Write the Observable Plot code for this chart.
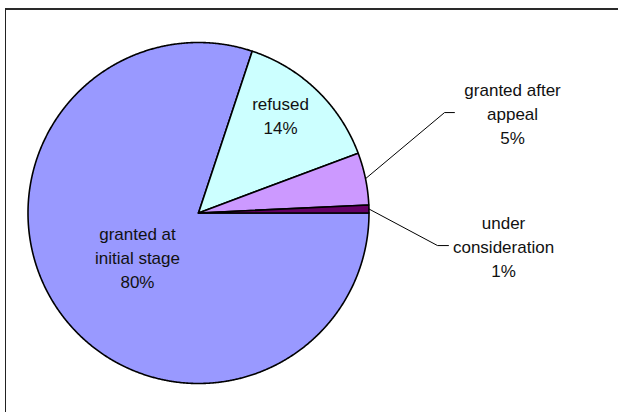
<!DOCTYPE html>
<html>
<head>
<meta charset="utf-8">
<script src="https://cdn.jsdelivr.net/npm/d3@7"></script>
<script src="https://cdn.jsdelivr.net/npm/@observablehq/plot@0.6"></script>
<style>
  html, body { margin: 0; padding: 0; background: #fff; }
  #wrap { position: relative; width: 618px; height: 412px; overflow: hidden; }
  #frame { position: absolute; left: 5px; top: 8px; width: 640px; height: 440px;
           border-left: 1.5px solid #222; border-top: 2px solid #2a2a2a; box-sizing: border-box; }
  #chart { position: absolute; left: 0; top: 0; }
</style>
</head>
<body>
<div id="wrap"><div id="frame"></div><div id="chart"></div></div>
<script>
// ---- data ----
const categories = ["granted at initial stage", "refused", "granted after appeal", "under consideration"];
const labelText = ["granted at\ninitial stage", "refused", "granted after\nappeal", "under\nconsideration"];
const shares = [80.1, 14.2, 4.95, 0.75];
const colors = ["#9999FF", "#CCFFFF", "#CC99FF", "#660066"];

// ---- layout (pie units: centre 0,0, radius 1) ----
const W = 618, H = 412, CX = 198, CY = 212.5, R = 170.5;
const labelPos = [[-0.358, -0.255], [0.481, 0.578], [1.842, 0.589], [1.789, -0.191]];
const leaderElbow = { "granted after appeal": [[1.443, 0.589], [1.501, 0.589]],
                      "under consideration": [[1.402, -0.191], [1.466, -0.191]] };

const total = d3.sum(shares);
const arcs = d3.pie().sort(null).startAngle(Math.PI / 2).endAngle(Math.PI / 2 + 2 * Math.PI)(shares);

const slicePts = [];
arcs.forEach((a, i) => {
  const key = categories[i];
  slicePts.push({key, x: 0, y: 0});
  const n = Math.max(2, Math.ceil((a.endAngle - a.startAngle) / 0.005));
  for (let k = 0; k <= n; k++) {
    const t = a.startAngle + (a.endAngle - a.startAngle) * k / n;
    slicePts.push({key, x: Math.sin(t), y: Math.cos(t)});
  }
  slicePts.push({key, x: 0, y: 0});
});

const labels = categories.map((c, i) => ({
  key: c,
  x: labelPos[i][0], y: labelPos[i][1],
  text: labelText[i] + "\n" + Math.round(shares[i] / total * 100) + "%"
}));

const leaders = [];
arcs.forEach((a, i) => {
  const key = categories[i];
  if (!leaderElbow[key]) return;
  const m = (a.startAngle + a.endAngle) / 2;
  leaders.push({key, x: Math.sin(m), y: Math.cos(m)});
  leaderElbow[key].forEach(p => leaders.push({key, x: p[0], y: p[1]}));
});

const chart = Plot.plot({
  width: W, height: H,
  marginLeft: 0, marginRight: 0, marginTop: 0, marginBottom: 0,
  x: {domain: [-CX / R, (W - CX) / R], axis: null},
  y: {domain: [-(H - CY) / R, CY / R], axis: null},
  color: {domain: categories, range: colors},
  style: {fontFamily: "'Liberation Sans', Arial, sans-serif", background: "transparent", overflow: "visible"},
  marks: [
    Plot.line(slicePts, {x: "x", y: "y", z: "key", fill: "key", stroke: "#000", strokeWidth: 1.6, strokeLinejoin: "round", curve: "linear"}),
    Plot.line(leaders, {x: "x", y: "y", z: "key", stroke: "#000", strokeWidth: 1, curve: "linear"}),
    Plot.text(labels, {x: "x", y: "y", text: "text", fontSize: 17, lineHeight: 1.42, fill: "#111"})
  ]
});
document.getElementById("chart").appendChild(chart);
</script>
</body>
</html>
